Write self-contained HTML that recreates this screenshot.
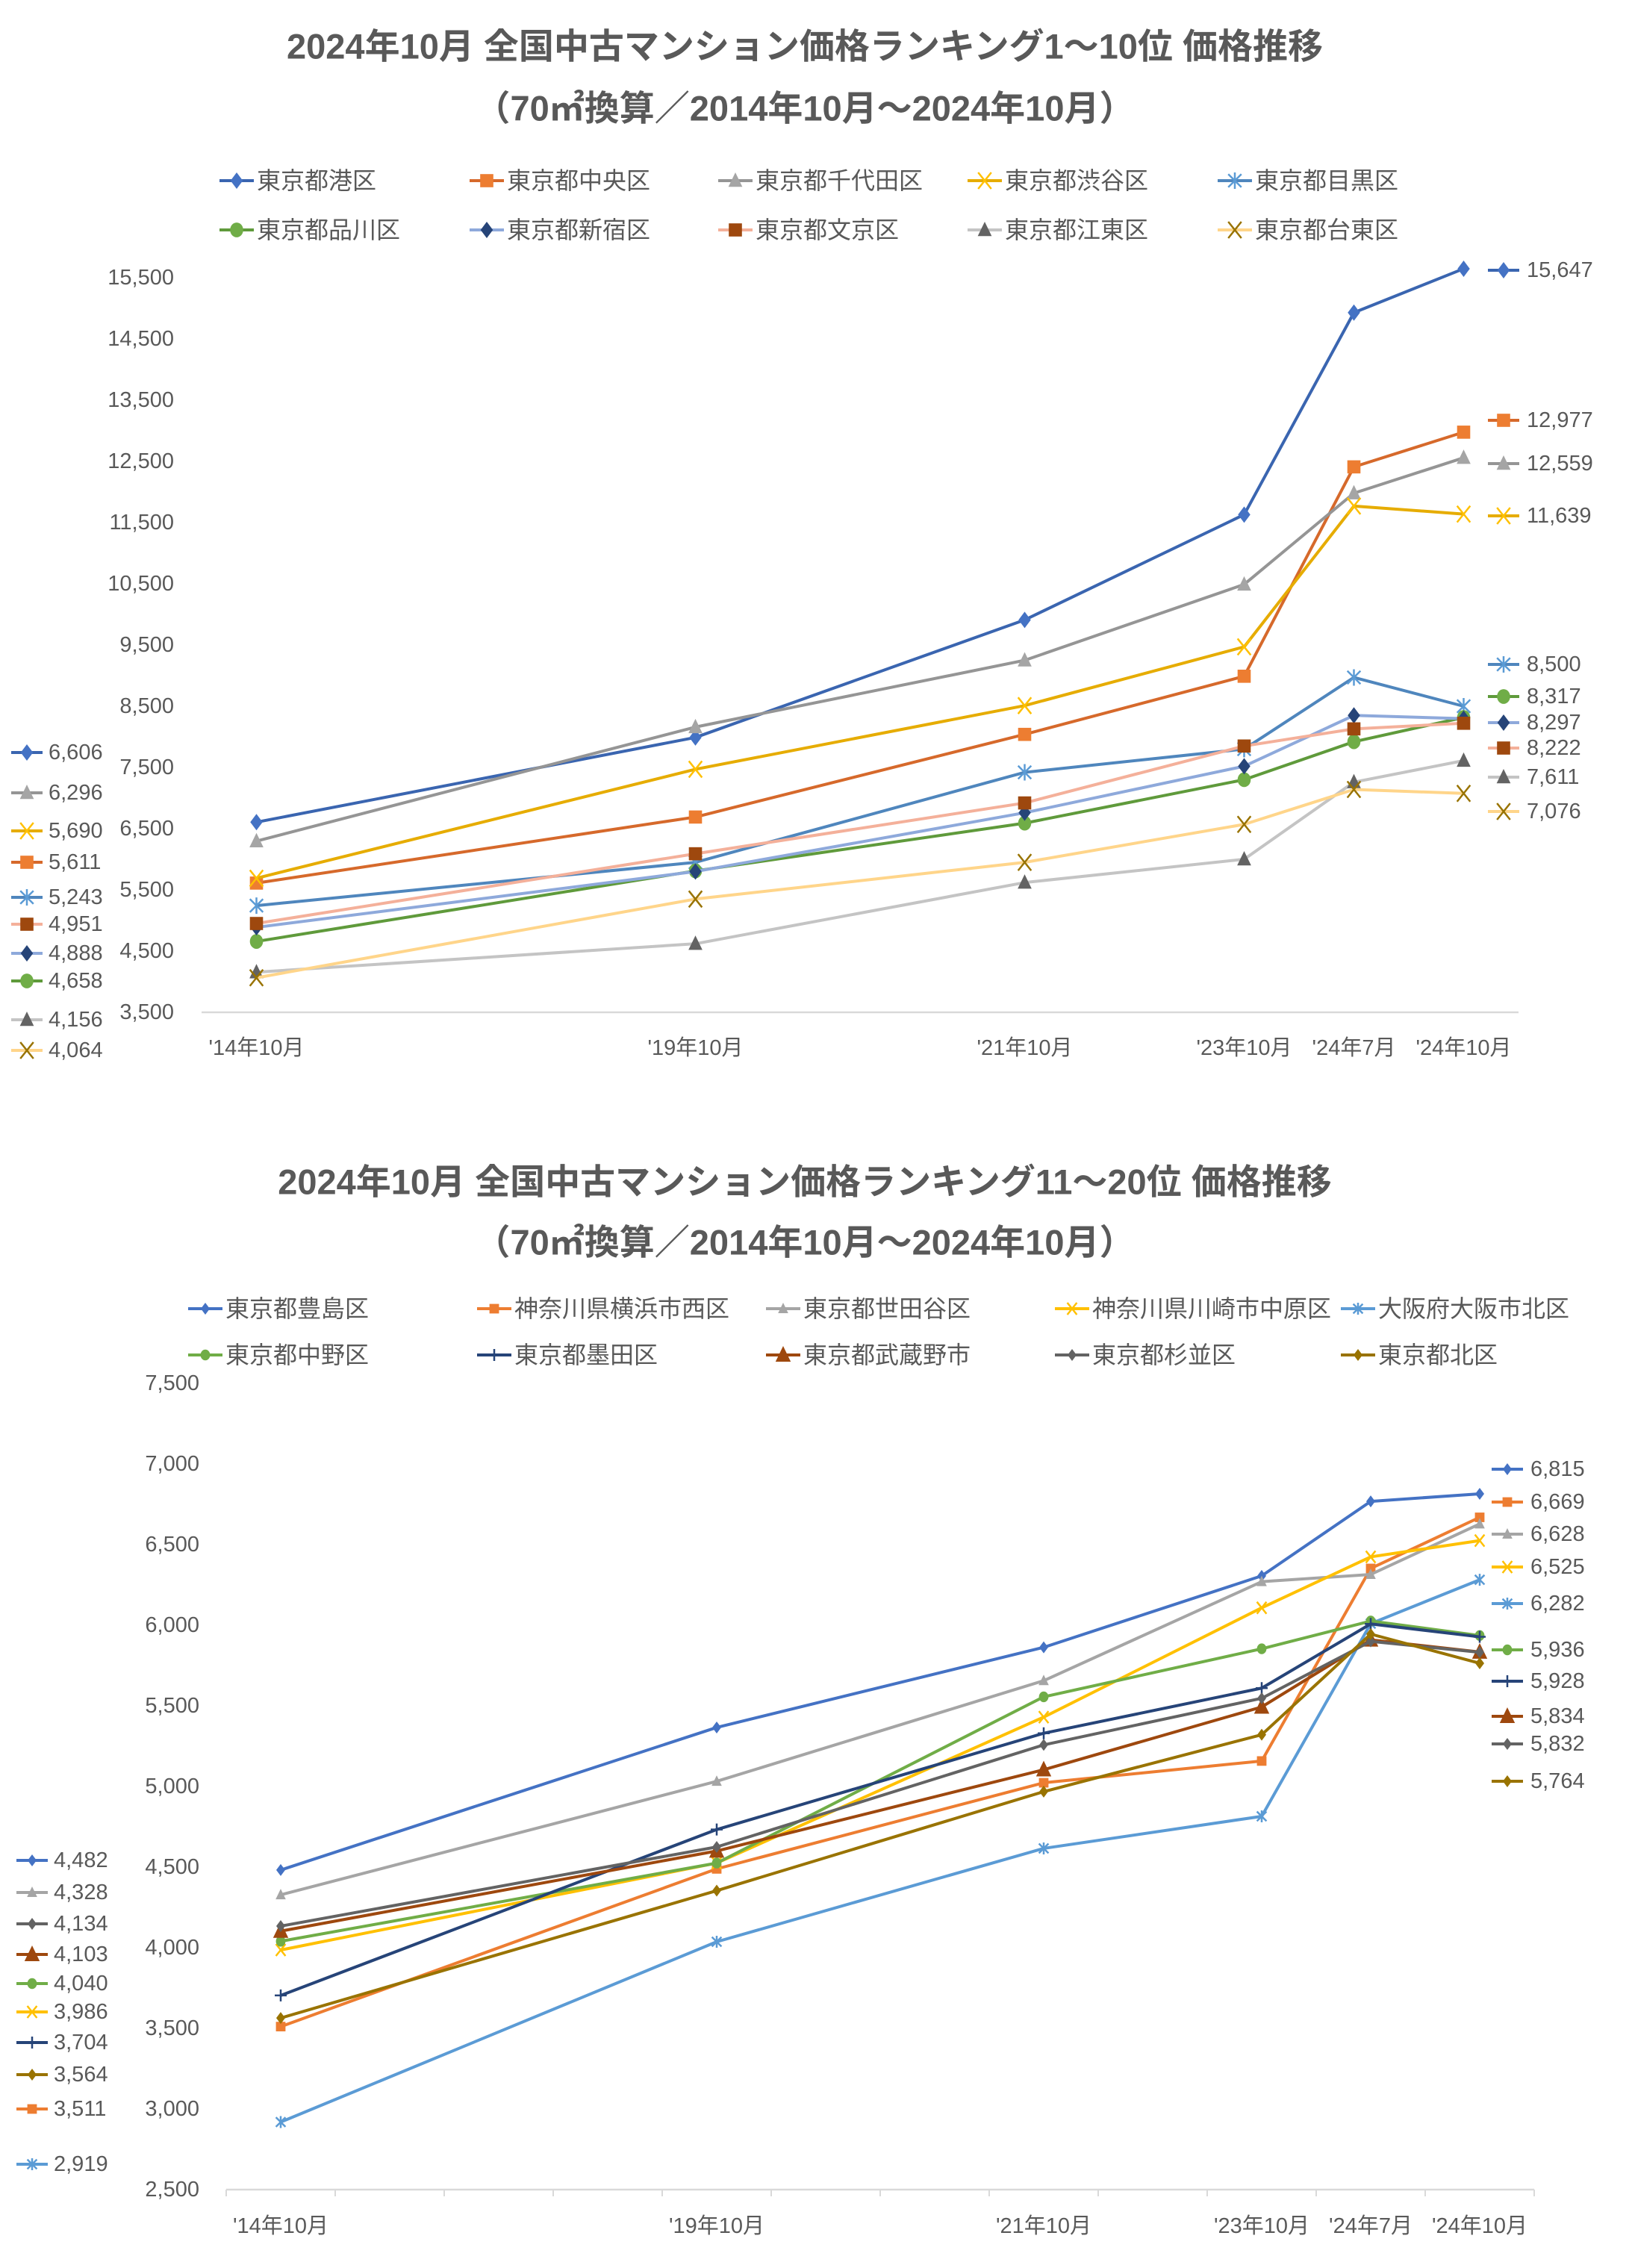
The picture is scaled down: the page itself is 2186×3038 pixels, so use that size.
<!DOCTYPE html>
<html><head><meta charset="utf-8"><style>
html,body{margin:0;padding:0;background:#fff;}
svg{display:block;font-family:"Liberation Sans","Noto Sans CJK JP",sans-serif;}
</style></head><body>
<svg id="root" width="2186" height="3038" viewBox="0 0 2186 3038" xmlns="http://www.w3.org/2000/svg">
<text x="1078" y="62" text-anchor="middle" dominant-baseline="central" font-size="47" font-weight="bold" fill="#595959">2024年10月 全国中古マンション価格ランキング1～10位 価格推移</text>
<text x="1078" y="145" text-anchor="middle" dominant-baseline="central" font-size="47" font-weight="bold" fill="#595959">（70㎡換算／2014年10月～2024年10月）</text>
<text x="1078" y="1583" text-anchor="middle" dominant-baseline="central" font-size="47" font-weight="bold" fill="#595959">2024年10月 全国中古マンション価格ランキング11～20位 価格推移</text>
<text x="1078" y="1664" text-anchor="middle" dominant-baseline="central" font-size="47" font-weight="bold" fill="#595959">（70㎡換算／2014年10月～2024年10月）</text>
</svg>
<script>
// ---- shared categories ----
const categories = ["'14年10月","","","","'19年10月","","","'21年10月","","'23年10月","'24年7月","'24年10月"];
const pointIdx = [0,4,7,9,10,11];

// ---- top chart data ----
const topNames = ["東京都港区","東京都中央区","東京都千代田区","東京都渋谷区","東京都目黒区","東京都品川区","東京都新宿区","東京都文京区","東京都江東区","東京都台東区"];
const topMinato   = [6606,7990,9910,11630,14930,15647];
const topChuo     = [5611,6690,8040,8990,12410,12977];
const topChiyoda  = [6296,8160,9250,10490,11980,12559];
const topShibuya  = [5690,7470,8510,9470,11770,11639];
const topMeguro   = [5243,5950,7420,7800,8970,8500];
const topShinagawa= [4658,5810,6590,7300,7920,8317];
const topShinjuku = [4888,5800,6760,7520,8350,8297];
const topBunkyo   = [4951,6090,6920,7850,8130,8222];
const topKoto     = [4156,4620,5620,6000,7260,7611];
const topTaito    = [4064,5350,5950,6570,7140,7076];
const topTicks = [3500,4500,5500,6500,7500,8500,9500,10500,11500,12500,13500,14500,15500];

// ---- bottom chart data ----
const botNames = ["東京都豊島区","神奈川県横浜市西区","東京都世田谷区","神奈川県川崎市中原区","大阪府大阪市北区","東京都中野区","東京都墨田区","東京都武蔵野市","東京都杉並区","東京都北区"];
const botToshima  = [4482,5366,5863,6306,6768,6815];
const botNishi    = [3511,4489,5023,5158,6352,6669];
const botSetagaya = [4328,5032,5656,6270,6315,6628];
const botNakahara = [3986,4525,5430,6108,6424,6525];
const botOsakaKita= [2919,4037,4616,4815,6010,6282];
const botNakano   = [4040,4525,5556,5854,6026,5936];
const botSumida   = [3704,4733,5330,5610,6008,5928];
const botMusashino= [4103,4600,5104,5493,5909,5834];
const botSuginami = [4134,4625,5258,5547,5900,5832];
const botKita     = [3564,4354,4968,5321,5945,5764];
const botTicks = [2500,3000,3500,4000,4500,5000,5500,6000,6500,7000,7500];

const NS="http://www.w3.org/2000/svg";
const root=document.getElementById('root');
function mk(tag,attrs,parent){const e=document.createElementNS(NS,tag);for(const k in attrs)e.setAttribute(k,attrs[k]);(parent||root).appendChild(e);return e;}
function fmt(v){return String(v).replace(/\B(?=(\d{3})+(?!\d))/g,',');}

function marker(g,type,x,y,s,fill){
  let e;
  if(type==='diamond'){e=mk('polygon',{points:`${x},${y-s} ${x+s*0.75},${y} ${x},${y+s} ${x-s*0.75},${y}`,fill:fill},g);}
  else if(type==='square'){e=mk('rect',{x:x-s*0.8,y:y-s*0.8,width:s*1.6,height:s*1.6,fill:fill},g);}
  else if(type==='triangle'){e=mk('polygon',{points:`${x},${y-s} ${x+s*0.85},${y+s*0.75} ${x-s*0.85},${y+s*0.75}`,fill:fill},g);}
  else if(type==='circle'){e=mk('ellipse',{cx:x,cy:y,rx:s*0.8,ry:s*0.9,fill:fill},g);}
  else if(type==='x'){e=mk('path',{d:`M${x-s*0.8},${y-s} L${x+s*0.8},${y+s} M${x+s*0.8},${y-s} L${x-s*0.8},${y+s}`,stroke:fill,'stroke-width':2.5,fill:'none'},g);}
  else if(type==='star'){e=mk('path',{d:`M${x-s*0.8},${y-s*0.8} L${x+s*0.8},${y+s*0.8} M${x+s*0.8},${y-s*0.8} L${x-s*0.8},${y+s*0.8} M${x},${y-s} L${x},${y+s}`,stroke:fill,'stroke-width':2.5,fill:'none'},g);}
  else {e=mk('path',{d:`M${x-s},${y} L${x+s},${y} M${x},${y-s} L${x},${y+s}`,stroke:fill,'stroke-width':2.5,fill:'none'},g);}
  return e;
}

function drawChart(cfg){
  const xPos=i=>cfg.x0+(i+0.5)*cfg.w;
  const yPos=v=>cfg.yBase-(v-cfg.vMin)*cfg.k;
  const g=mk('g',{});
  
  
  const ax=mk('line',{x1:cfg.x0,y1:cfg.yBase,x2:cfg.x0+12*cfg.w,y2:cfg.yBase,stroke:'#d9d9d9','stroke-width':2.5},g);
  
  
  if(cfg.ticks){for(let i=0;i<=12;i++){const t=mk('line',{x1:cfg.x0+i*cfg.w,y1:cfg.yBase,x2:cfg.x0+i*cfg.w,y2:cfg.yBase+9,stroke:'#d9d9d9','stroke-width':2},g);
    
    }}
  cfg.yTicks.forEach(v=>{const t=mk('text',{x:cfg.yLabelX,y:yPos(v),'text-anchor':'end','dominant-baseline':'central','font-size':29,fill:'#595959'},g);t.textContent=fmt(v);
    
    });
  categories.forEach((c,i)=>{if(!c)return;const t=mk('text',{x:xPos(i),y:cfg.xLabelY,'text-anchor':'middle','dominant-baseline':'central','font-size':29,fill:'#595959'},g);t.textContent=c;
    
    });
  cfg.series.forEach((s,si)=>{
    const sg=mk('g',{},g);
    
    
    const pts=s.data.map((v,j)=>[xPos(pointIdx[j]),yPos(v)]);
    const pl=mk('polyline',{points:pts.map(p=>p.join(',')).join(' '),fill:'none',stroke:s.line,'stroke-width':cfg.lw,'stroke-linejoin':'round'},sg);
    
    
    pts.forEach(p=>{const m=marker(sg,s.m,p[0],p[1],s.ms||cfg.ms,s.mc);
      
      });
    const ly=cfg.leftY[si];
    const l1=mk('line',{x1:cfg.leftX,y1:ly,x2:cfg.leftX+42,y2:ly,stroke:s.line,'stroke-width':cfg.lw},sg);
    
    
    const lm=marker(sg,s.m,cfg.leftX+21,ly,(s.ms||cfg.ms),s.mc);
    
    
    const lt=mk('text',{x:cfg.leftX+50,y:ly,'dominant-baseline':'central','font-size':29,fill:'#595959'},sg);lt.textContent=fmt(s.data[0]);
    
    
    const ry=cfg.rightY[si];
    const r1=mk('line',{x1:cfg.rightX,y1:ry,x2:cfg.rightX+42,y2:ry,stroke:s.line,'stroke-width':cfg.lw},sg);
    
    
    const rm=marker(sg,s.m,cfg.rightX+21,ry,(s.ms||cfg.ms),s.mc);
    
    
    const rt=mk('text',{x:cfg.rightX+52,y:ry,'dominant-baseline':'central','font-size':29,fill:'#595959'},sg);rt.textContent=fmt(s.data[s.data.length-1]);
    
    
    const lx=cfg.legX[si%5], lyy=cfg.legY[Math.floor(si/5)];
    const lg=mk('g',{},g);
    
    
    mk('line',{x1:lx,y1:lyy,x2:lx+46,y2:lyy,stroke:s.line,'stroke-width':cfg.lw},lg);
    marker(lg,s.m,lx+23,lyy,(s.ms||cfg.ms),s.mc);
    const ltx=mk('text',{x:lx+50,y:lyy,'dominant-baseline':'central','font-size':32,fill:'#595959'},lg);ltx.textContent=s.name;
  });
}

drawChart({prefix:'top',x0:270,w:147,yBase:1356,vMin:3500,k:0.082,yTicks:topTicks,yLabelX:233,xLabelY:1404,lw:4,ms:11,ticks:false,
  leftX:15,rightX:1993,
  leftY:[1008,1155,1062,1113,1202,1314,1277,1238,1366,1407],
  rightY:[362,563,621,691,890,933,968,1002,1041,1087],
  legX:[294,629,962,1296,1631],legY:[242,308],
  series:[
    {name:topNames[0],data:topMinato,line:'#3a65b0',mc:'#4472C4',m:'diamond'},
    {name:topNames[1],data:topChuo,line:'#d6692b',mc:'#ED7D31',m:'square'},
    {name:topNames[2],data:topChiyoda,line:'#959595',mc:'#A5A5A5',m:'triangle'},
    {name:topNames[3],data:topShibuya,line:'#e6ac00',mc:'#FFC000',m:'x'},
    {name:topNames[4],data:topMeguro,line:'#4f86bd',mc:'#5B9BD5',m:'star'},
    {name:topNames[5],data:topShinagawa,line:'#5f9a3b',mc:'#70AD47',m:'circle'},
    {name:topNames[6],data:topShinjuku,line:'#8ea9db',mc:'#264478',m:'diamond'},
    {name:topNames[7],data:topBunkyo,line:'#f4b09a',mc:'#9E480E',m:'square'},
    {name:topNames[8],data:topKoto,line:'#c4c4c4',mc:'#636363',m:'triangle'},
    {name:topNames[9],data:topTaito,line:'#ffd58a',mc:'#997300',m:'x'}
  ]});

drawChart({prefix:'bottom',x0:303,w:146,yBase:2933,vMin:2500,k:0.216,yTicks:botTicks,yLabelX:267,xLabelY:2982,lw:4,ms:8,ticks:true,
  leftX:22,rightX:1998,
  leftY:[2492,2825,2535,2695,2899,2657,2736,2618,2577,2779],
  rightY:[1968,2012,2055,2099,2148,2210,2252,2299,2336,2386],
  legX:[252,639,1026,1413,1796],legY:[1753,1815],
  series:[
    {name:botNames[0],data:botToshima,line:'#4472C4',mc:'#4472C4',m:'diamond'},
    {name:botNames[1],data:botNishi,line:'#ED7D31',mc:'#ED7D31',m:'square'},
    {name:botNames[2],data:botSetagaya,line:'#A5A5A5',mc:'#A5A5A5',m:'triangle'},
    {name:botNames[3],data:botNakahara,line:'#FFC000',mc:'#FFC000',m:'x'},
    {name:botNames[4],data:botOsakaKita,line:'#5B9BD5',mc:'#5B9BD5',m:'star'},
    {name:botNames[5],data:botNakano,line:'#70AD47',mc:'#70AD47',m:'circle'},
    {name:botNames[6],data:botSumida,line:'#264478',mc:'#264478',m:'plus'},
    {name:botNames[7],data:botMusashino,line:'#9E480E',mc:'#9E480E',m:'triangle',ms:12},
    {name:botNames[8],data:botSuginami,line:'#636363',mc:'#636363',m:'diamond'},
    {name:botNames[9],data:botKita,line:'#997300',mc:'#997300',m:'diamond'}
  ]});
</script>
</body></html>
